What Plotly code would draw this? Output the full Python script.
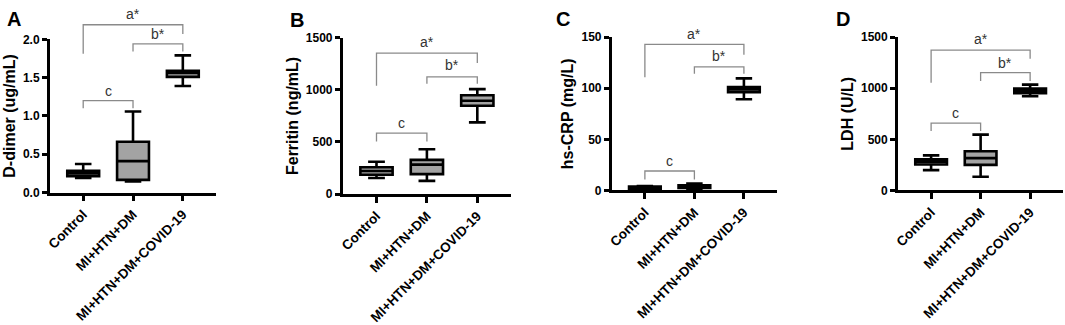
import plotly.graph_objects as go

# ---------------- data ----------------
groups = ["Control", "MI+HTN+DM", "MI+HTN+DM+COVID-19"]

# D-dimer (ug/mL)  [lower whisker, Q1, median, Q3, upper whisker] per group
ddimer_low = [0.19, 0.145, 1.39]
ddimer_q1 = [0.213, 0.165, 1.51]
ddimer_med = [0.25, 0.41, 1.56]
ddimer_q3 = [0.285, 0.663, 1.59]
ddimer_high = [0.373, 1.057, 1.79]

ferritin_low = [154, 127, 688]
ferritin_q1 = [186, 192, 848]
ferritin_med = [221, 283, 895]
ferritin_q3 = [257, 328, 948]
ferritin_high = [310, 431, 1007]

crp_low = [0.8, 1.5, 89.2]
crp_q1 = [1.2, 2.3, 96.1]
crp_med = [2.5, 3.5, 98.8]
crp_q3 = [3.8, 5.0, 101.2]
crp_high = [4.3, 6.7, 109.7]

ldh_low = [199, 133, 922]
ldh_q1 = [253, 250, 952]
ldh_med = [280, 316, 976]
ldh_q3 = [305, 383, 997]
ldh_high = [343, 546, 1036]

panel_letters = ["A", "B", "C", "D"]
y_titles = ["D-dimer (ug/mL)", "Ferritin (ng/mL)", "hs-CRP (mg/L)", "LDH (U/L)"]
y_max = [2.0, 1500, 150, 1500]
y_dtick = [0.5, 500, 50, 500]
y_fmt = [".1f", "d", "d", "d"]

# significance brackets: (group i, group j, text)
bracket_pairs = [(0, 1, "c"), (1, 2, "b*"), (0, 2, "a*")]
# bracket heights per panel (left leg end, right leg end, top, label) in data units
bracket_levels = [
    [(1.10, 1.10, 1.20, 1.32), (1.84, 1.84, 1.94, 2.07), (1.81, 2.07, 2.19, 2.33)],
    [(505, 505, 585, 680), (1058, 1058, 1125, 1235), (1040, 1258, 1352, 1456)],
    [(10.8, 10.8, 19, 28.9), (114.2, 114.2, 120.9, 131.9), (110.8, 132.8, 143, 153)],
    [(581, 581, 659, 762), (1072, 1072, 1154, 1245), (1054, 1289, 1373, 1479)],
]

panels = [
    (ddimer_low, ddimer_q1, ddimer_med, ddimer_q3, ddimer_high),
    (ferritin_low, ferritin_q1, ferritin_med, ferritin_q3, ferritin_high),
    (crp_low, crp_q1, crp_med, crp_q3, crp_high),
    (ldh_low, ldh_q1, ldh_med, ldh_q3, ldh_high),
]

# ---------------- layout geometry (pixels) ----------------
W, H = 1065, 325
# (y-axis x px, x-axis end px, zero y px, top tick y px)
geom = [(46, 213, 201, 35), (340, 509, 202.7, 33.3), (610, 776, 198.7, 32.7), (897.3, 1063.3, 198.7, 32.7)]
letter_px = [(10, 13), (294, 14), (561, 13), (842, 13)]
x_range = [-0.67, 2.67]

FONT = "Liberation Sans, Arial, sans-serif"
fig = go.Figure()
shapes = []
annotations = []

for p in range(4):
    sfx = "" if p == 0 else str(p + 1)
    xa, ya = "x" + sfx, "y" + sfx
    x0px, x1px, y0px, ytpx = geom[p]
    xdom = [x0px / W, x1px / W]
    ydom = [1 - y0px / H, 1 - ytpx / H]
    low, q1, med, q3, high = panels[p]
    for i in range(3):
        fig.add_trace(go.Box(
            x=[i], q1=[q1[i]], median=[med[i]], q3=[q3[i]],
            lowerfence=[low[i]], upperfence=[high[i]],
            width=0.64, whiskerwidth=0.52,
            fillcolor="#a3a3a3", line=dict(color="black", width=2.6),
            boxpoints=False, showlegend=False, hoverinfo="skip",
            xaxis=xa, yaxis=ya,
        ))
    fig.layout["xaxis" + sfx] = dict(
        domain=xdom, anchor=ya, range=x_range,
        tickmode="array", tickvals=[0, 1, 2], ticktext=groups, tickangle=-45,
        showline=True, linewidth=2.6, linecolor="black",
        ticks="outside", ticklen=6, tickwidth=2.6, tickcolor="black",
        showgrid=False, zeroline=False,
        tickfont=dict(family=FONT, size=13.5, color="black", weight="bold"),
    )
    fig.layout["yaxis" + sfx] = dict(
        domain=ydom, anchor=xa, range=[0, y_max[p]],
        dtick=y_dtick[p], tick0=0, tickformat=y_fmt[p],
        showline=True, linewidth=2.6, linecolor="black",
        ticks="outside", ticklen=5, tickwidth=2.6, tickcolor="black",
        showgrid=False, zeroline=False,
        tickfont=dict(family=FONT, size=12, color="black", weight="bold"),
        title=dict(text=y_titles[p], standoff=4,
                   font=dict(family=FONT, size=16, color="black", weight="bold")),
    )

    def xf(c):
        return (c - x_range[0]) / (x_range[1] - x_range[0])

    def yp(v):
        return ydom[0] + v / y_max[p] * (ydom[1] - ydom[0])

    for (i, j, txt), (yl, yr, yt, ylab) in zip(bracket_pairs, bracket_levels[p]):
        shapes.append(dict(
            type="path", xref=xa + " domain", yref="paper",
            path=f"M {xf(i)},{yp(yl)} L {xf(i)},{yp(yt)} L {xf(j)},{yp(yt)} L {xf(j)},{yp(yr)}",
            line=dict(color="#8a8a8a", width=1.3),
        ))
        annotations.append(dict(
            xref=xa + " domain", yref="paper", x=xf((i + j) / 2), y=yp(ylab),
            text=txt, showarrow=False, xanchor="center", yanchor="middle",
            font=dict(family=FONT, size=14, color="#333333"),
        ))
    lx, ly = letter_px[p]
    annotations.append(dict(
        xref="paper", yref="paper", x=lx / W, y=1 - ly / H, text=panel_letters[p],
        showarrow=False, xanchor="center", yanchor="middle",
        font=dict(family=FONT, size=20, color="black", weight="bold"),
    ))

fig.update_layout(
    width=W, height=H, margin=dict(l=0, r=0, t=0, b=0),
    paper_bgcolor="white", plot_bgcolor="white",
    shapes=shapes, annotations=annotations, showlegend=False,
)

fig.write_html(
    "out.html",
    config={"displayModeBar": False},
    post_script="document.body.style.margin='0';document.body.style.overflow='hidden';",
)
